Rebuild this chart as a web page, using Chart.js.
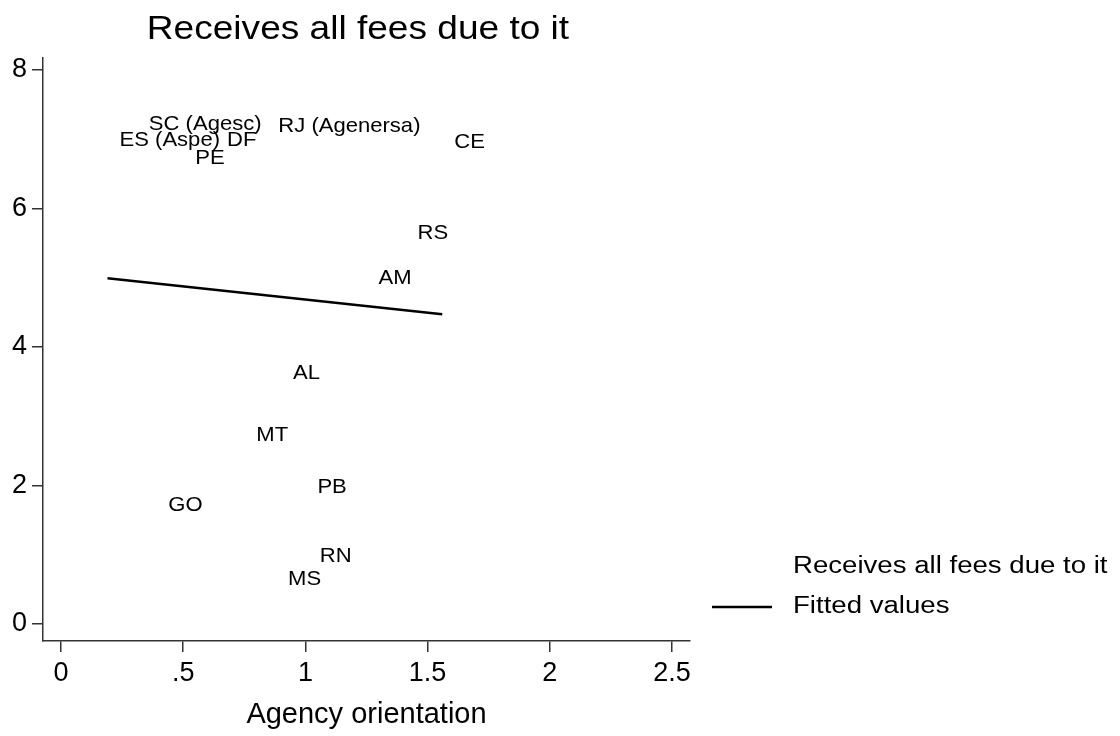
<!DOCTYPE html>
<html>
<head>
<meta charset="utf-8">
<script src="https://cdn.jsdelivr.net/npm/chart.js@4"></script>
<style>
  body { margin: 0; background: #fff; }
  canvas { display: block; }
</style>
</head>
<body>
<canvas id="chart" width="1120" height="736"></canvas>
<script>
// state labels and their position (agency orientation, fees score)
const states = ['SC (Agesc)', 'RJ (Agenersa)', 'ES (Aspe)', 'DF', 'PE', 'CE', 'RS', 'AM', 'AL', 'MT', 'PB', 'GO', 'RN', 'MS'];
const orientation = [0.31, 0.84, 0.19, 0.63, 0.50, 1.56, 1.41, 1.25, 0.90, 0.75, 1.00, 0.39, 1.01, 0.88];
const fees = [7.21, 7.19, 6.98, 6.98, 6.72, 6.95, 5.64, 4.99, 3.62, 2.72, 1.98, 1.72, 0.98, 0.64];

// fitted values line (end points)
const fitX = [0.19, 1.56];
const fitY = [4.99, 4.47];

const xTicks = [0, 0.5, 1, 1.5, 2, 2.5];
const xTickLabels = ['0', '.5', '1', '1.5', '2', '2.5'];
const yTicks = [0, 2, 4, 6, 8];

const titleText = 'Receives all fees due to it';
const xTitle = 'Agency orientation';
const legendLabels = ['Receives all fees due to it', 'Fitted values'];

const FONT = "'Liberation Sans', Arial, sans-serif";
const AXIS = '#333';

function wideText(ctx, text, x, y, sx, align) {
    ctx.save();
    ctx.translate(x, y);
    ctx.scale(sx, 1);
    ctx.textAlign = align;
    ctx.fillText(text, 0, 0);
    ctx.restore();
}

// marker labels to the right of each (invisible) point, plus title and legend
const stataText = {
    id: 'stataText',
    afterDatasetsDraw(chart) {
        const ctx = chart.ctx;
        ctx.save();
        ctx.fillStyle = '#000';
        ctx.textBaseline = 'middle';
        ctx.font = '21px ' + FONT;
        chart.getDatasetMeta(0).data.forEach(function (pt, i) {
            wideText(ctx, states[i], pt.x + 12, pt.y, 1.05, 'left');
        });

        ctx.textBaseline = 'alphabetic';
        ctx.font = '34px ' + FONT;
        wideText(ctx, titleText, 358, 39, 1.09, 'center');

        ctx.textBaseline = 'middle';
        ctx.font = '23px ' + FONT;
        wideText(ctx, legendLabels[0], 793, 567, 1.2, 'left');
        wideText(ctx, legendLabels[1], 793, 607, 1.2, 'left');
        ctx.strokeStyle = '#000';
        ctx.lineWidth = 2.5;
        ctx.beginPath();
        ctx.moveTo(712, 607);
        ctx.lineTo(772, 607);
        ctx.stroke();
        ctx.restore();
    }
};

const ctx = document.getElementById('chart').getContext('2d');
new Chart(ctx, {
    type: 'scatter',
    data: {
        datasets: [{
            label: legendLabels[0],
            data: orientation.map((x, i) => ({ x: x, y: fees[i] })),
            pointRadius: 0,
            pointHoverRadius: 0
        }, {
            label: legendLabels[1],
            data: fitX.map((x, i) => ({ x: x, y: fitY[i] })),
            showLine: true,
            borderColor: '#000',
            borderWidth: 2.5,
            pointRadius: 0,
            pointHoverRadius: 0
        }]
    },
    options: {
        responsive: false,
        animation: false,
        layout: { padding: { left: 0, right: 430, top: 58, bottom: 0 } },
        scales: {
            x: {
                type: 'linear',
                min: -0.074,
                max: 2.574,
                afterBuildTicks: s => { s.ticks = xTicks.map(v => ({ value: v })); },
                afterFit: s => { s.height = 95; },
                grid: { drawOnChartArea: false, tickLength: 11, color: AXIS, lineWidth: 1.5 },
                border: { display: true, color: AXIS, width: 1.5 },
                ticks: {
                    padding: 5,
                    color: '#000',
                    font: { family: FONT, size: 27 },
                    callback: (v, i) => xTickLabels[i]
                },
                title: {
                    display: true,
                    text: xTitle,
                    color: '#000',
                    font: { family: FONT, size: 29 },
                    padding: { top: 0, bottom: 3.5 }
                }
            },
            y: {
                type: 'linear',
                min: -0.246,
                max: 8.17,
                afterBuildTicks: s => { s.ticks = yTicks.map(v => ({ value: v })); },
                afterFit: s => { s.width = 43; },
                grid: { drawOnChartArea: false, tickLength: 11, color: AXIS, lineWidth: 1.5 },
                border: { display: true, color: AXIS, width: 1.5 },
                ticks: {
                    padding: 5,
                    color: '#000',
                    font: { family: FONT, size: 27 },
                    callback: v => String(v)
                }
            }
        },
        plugins: {
            legend: { display: false },
            title: { display: false },
            tooltip: { enabled: false }
        }
    },
    plugins: [stataText]
});
</script>
</body>
</html>
